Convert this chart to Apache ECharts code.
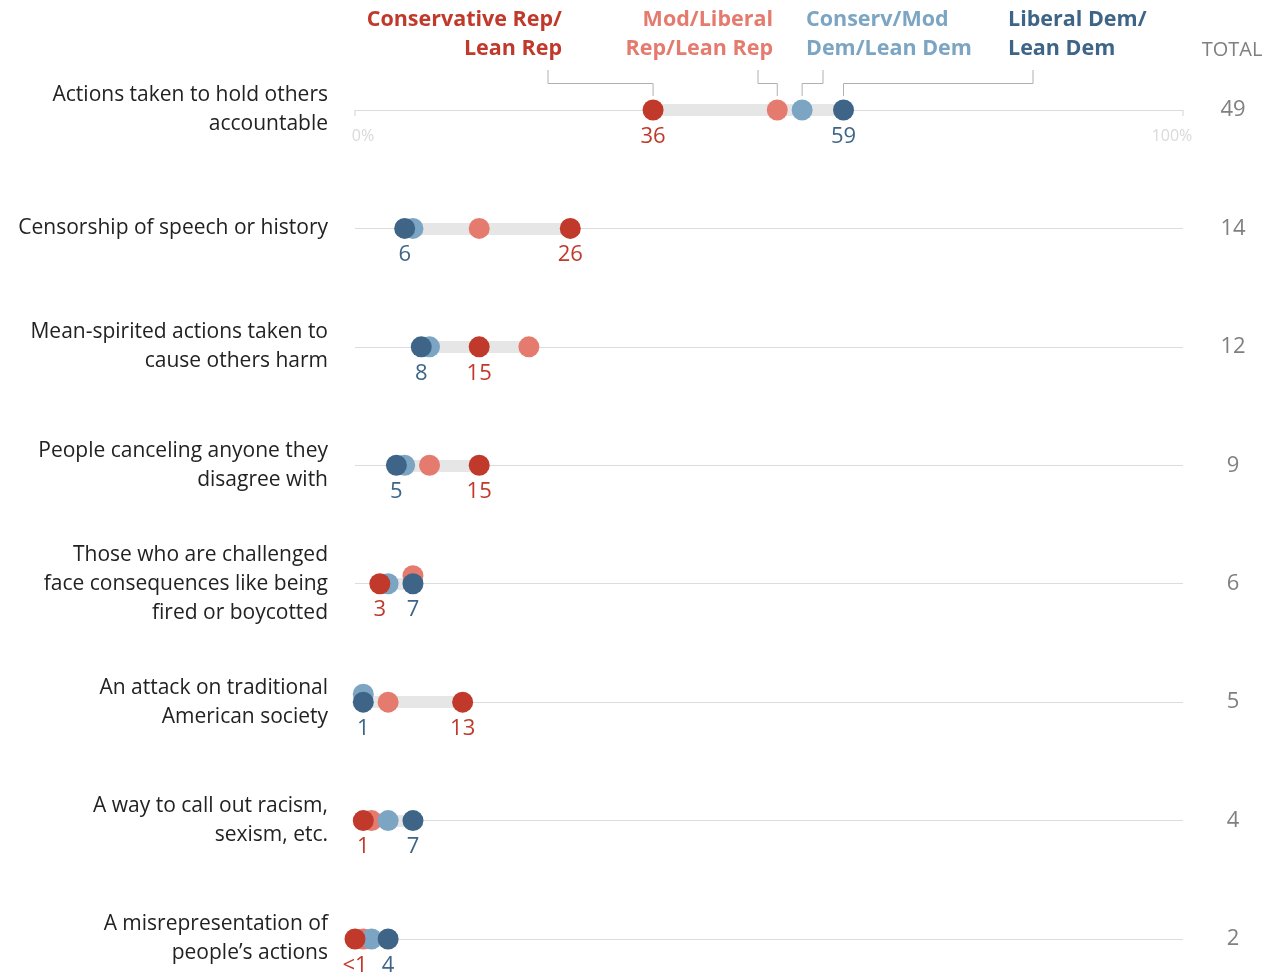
<!DOCTYPE html>
<html>
<head>
<meta charset="utf-8">
<script src="https://cdn.jsdelivr.net/npm/echarts@6/dist/echarts.min.js"></script>
<style>
html,body{margin:0;padding:0;background:#fff;}
#chart{width:1272px;height:973px;}
</style>
</head>
<body>
<div id="chart"></div>
<script>
// ---------- data ----------
const categories = [
  "Actions taken to hold others\naccountable",
  "Censorship of speech or history",
  "Mean-spirited actions taken to\ncause others harm",
  "People canceling anyone they\ndisagree with",
  "Those who are challenged\nface consequences like being\nfired or boycotted",
  "An attack on traditional\nAmerican society",
  "A way to call out racism,\nsexism, etc.",
  "A misrepresentation of\npeople\u2019s actions"
];
const consRep    = [36, 26, 15, 15, 3, 13, 1, 0];
const modLibRep  = [51, 15, 21, 9, 7, 4, 2, 1];
const consModDem = [54, 7, 9, 6, 4, 1, 4, 2];
const libDem     = [59, 6, 8, 5, 7, 1, 7, 4];
const totals     = [49, 14, 12, 9, 6, 5, 4, 2];
const seriesNames = ["Conservative Rep/\nLean Rep", "Mod/Liberal\nRep/Lean Rep", "Conserv/Mod\nDem/Lean Dem", "Liberal Dem/\nLean Dem"];
const axisTickLabels = ["0%", "100%"];

// ---------- styles ----------
const C_CONSREP = '#c0392b';
const C_MODREP = '#e57b6e';
const C_MODDEM = '#7ca5c3';
const C_LIBDEM = '#3e6587';
const FONT = '"Open Sans", "Liberation Sans", Arial, sans-serif';

const chart = echarts.init(document.getElementById('chart'), null, {renderer: 'canvas'});

const barData = categories.map((c, i) => {
  const vals = [consRep[i], modLibRep[i], consModDem[i], libDem[i]];
  return {coords: [[Math.min(...vals), i], [Math.max(...vals), i]]};
});

function shiftedData(vals, others) {
  return vals.map((v, i) => {
    const coincide = others.some(o => o[i] === v);
    return coincide ? {value: [v, i], symbolOffset: [0, -8]} : {value: [v, i]};
  });
}

function labeledData(vals) {
  return vals.map((v, i) => [v, i]);
}

const option = {
  backgroundColor: '#fff',
  animation: false,
  grid: {left: 355, right: 89, top: 110, bottom: 34, containLabel: false},
  xAxis: {type: 'value', min: 0, max: 100, show: false},
  yAxis: [
    {
      type: 'category', data: categories, inverse: true, boundaryGap: false,
      axisLine: {show: false}, axisTick: {show: false},
      splitLine: {show: true, lineStyle: {color: '#dcdcdc', width: 1}},
      axisLabel: {margin: 27, fontSize: 21, lineHeight: 29, color: '#222', fontFamily: FONT, align: 'right',
        padding: [8, 0, 0, 0]}
    },
    {
      type: 'category', data: totals.map(String), inverse: true, boundaryGap: false, position: 'right',
      axisLine: {show: false}, axisTick: {show: false}, splitLine: {show: false},
      axisLabel: {margin: 50, fontSize: 22, color: '#808080', fontFamily: FONT, align: 'center'}
    }
  ],
  series: [
    {
      type: 'lines', coordinateSystem: 'cartesian2d', polyline: false, silent: true, z: 1,
      lineStyle: {color: '#e6e6e6', width: 12, opacity: 1, cap: 'butt'},
      data: barData
    },
    {
      type: 'scatter', z: 2, silent: true,
      symbol: 'rect', symbolSize: [1, 6], symbolOffset: [0, 3],
      itemStyle: {color: '#c8c8c8'},
      data: [[0, 0], [100, 0]].map((d, k) => ({
        value: d,
        label: {
          show: true, formatter: axisTickLabels[k], position: 'bottom', distance: 12,
          color: '#cfcfcf', fontSize: 16, fontFamily: FONT,
          offset: k === 0 ? [8, 0] : [-11, 0]
        }
      }))
    },
    {
      name: seriesNames[1], type: 'scatter', z: 3, symbolSize: 21,
      itemStyle: {color: C_MODREP, opacity: 1},
      data: shiftedData(modLibRep, [consRep, libDem])
    },
    {
      name: seriesNames[2], type: 'scatter', z: 3, symbolSize: 21,
      itemStyle: {color: C_MODDEM, opacity: 1},
      data: shiftedData(consModDem, [consRep, libDem])
    },
    {
      name: seriesNames[3], type: 'scatter', z: 4, symbolSize: 21,
      itemStyle: {color: C_LIBDEM, opacity: 1},
      label: {show: true, position: 'bottom', distance: 5, color: C_LIBDEM, fontSize: 22, fontFamily: FONT,
        formatter: p => p.value[0] < 1 ? '<1' : String(p.value[0])},
      data: labeledData(libDem)
    },
    {
      name: seriesNames[0], type: 'scatter', z: 5, symbolSize: 21,
      itemStyle: {color: C_CONSREP, opacity: 1},
      label: {show: true, position: 'bottom', distance: 5, color: C_CONSREP, fontSize: 22, fontFamily: FONT,
        formatter: p => p.value[0] < 1 ? '<1' : String(p.value[0])},
      data: labeledData(consRep)
    }
  ]
};
chart.setOption(option);

// ---------- legend annotations with leader lines ----------
const legendDefs = [
  {text: seriesNames[0], color: C_CONSREP, tx: 562, align: 'right', lx: 548, val: consRep[0]},
  {text: seriesNames[1], color: C_MODREP, tx: 773, align: 'right', lx: 758, val: modLibRep[0]},
  {text: seriesNames[2], color: C_MODDEM, tx: 806, align: 'left', lx: 823, val: consModDem[0]},
  {text: seriesNames[3], color: C_LIBDEM, tx: 1008, align: 'left', lx: 1033, val: libDem[0]}
];
const graphics = [];
legendDefs.forEach(d => {
  const px = chart.convertToPixel({gridIndex: 0}, [d.val, 0]);
  graphics.push({
    type: 'text', x: d.tx, y: 5, silent: true,
    style: {text: d.text, fill: d.color, font: 'bold 21.5px ' + FONT, textAlign: d.align, textVerticalAlign: 'top', lineHeight: 29}
  });
  graphics.push({
    type: 'polyline', silent: true,
    shape: {points: [[d.lx, 70], [d.lx, 83.5], [px[0], 83.5], [px[0], 96]]},
    style: {stroke: '#b0b0b0', lineWidth: 1, fill: null}
  });
});
graphics.push({
  type: 'text', x: 1232, y: 40, silent: true,
  style: {text: 'TOTAL', fill: '#808080', font: '20px ' + FONT, textAlign: 'center', textVerticalAlign: 'top'}
});
chart.setOption({graphic: graphics});
</script>
</body>
</html>
